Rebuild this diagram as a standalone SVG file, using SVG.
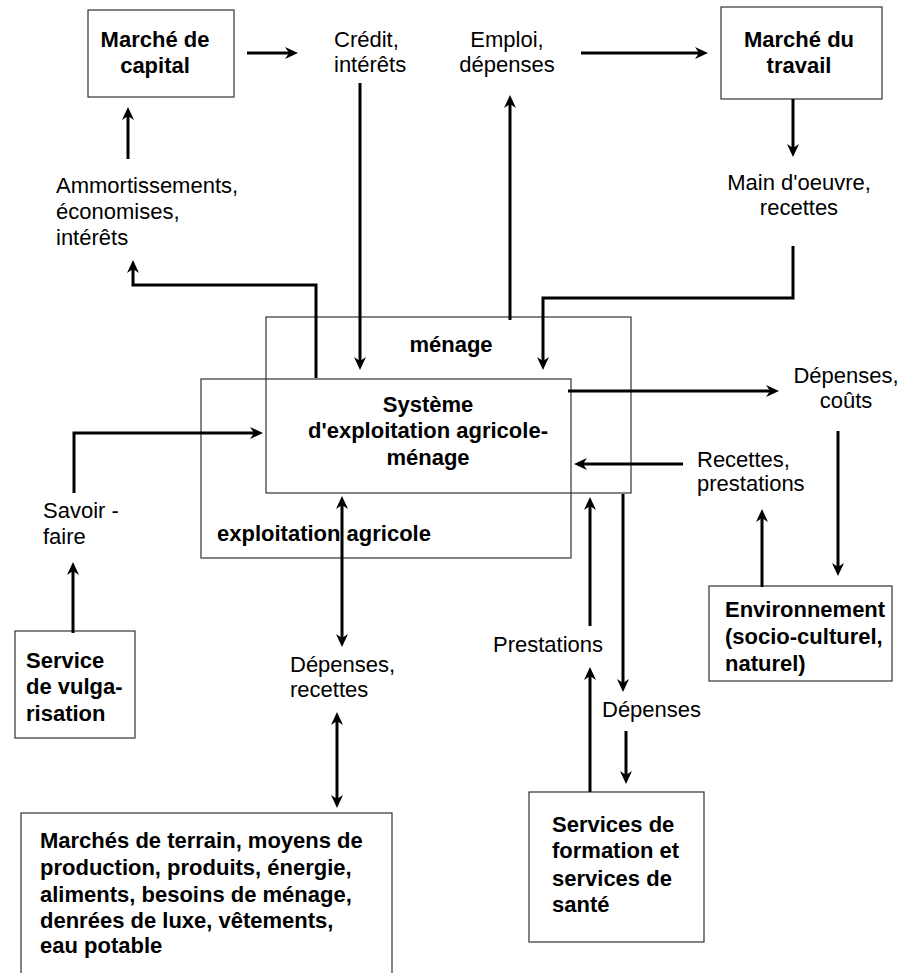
<svg xmlns="http://www.w3.org/2000/svg" width="902" height="973" viewBox="0 0 902 973">
<style>
text{font-family:"Liberation Sans",Arial,sans-serif;font-size:22px;fill:#000}
.b{font-weight:bold}
.m{text-anchor:middle}
.box{fill:none;stroke:#333;stroke-width:1.2}
.c{fill:none;stroke:#000;stroke-width:3;marker-end:url(#ah)}
.d{marker-start:url(#ah)}
</style>
<defs>
<marker id="ah" markerUnits="userSpaceOnUse" markerWidth="14" markerHeight="14" refX="4" refY="6" orient="auto-start-reverse" overflow="visible">
<path d="M0,0 L13,6 L0,12 L4,6 Z" fill="#000"/>
</marker>
</defs>
<rect width="902" height="973" fill="#fff"/>
<g id="capital"><rect class="box" x="88" y="10" width="146" height="87"/><text class="b m" x="155" y="47">Marché de</text><text class="b m" x="155" y="73">capital</text></g>
<g id="travail"><rect class="box" x="721" y="7" width="161" height="92"/><text class="b m" x="799" y="47">Marché du</text><text class="b m" x="799" y="73">travail</text></g>
<g id="credit"><text x="334" y="47">Crédit,</text><text x="334" y="72">intérêts</text></g>
<g id="emploi"><text class="m" x="507" y="47">Emploi,</text><text class="m" x="507" y="72">dépenses</text></g>
<g id="main"><text class="m" x="799" y="190">Main d'oeuvre,</text><text class="m" x="799" y="215">recettes</text></g>
<g id="ammort"><text x="56" y="193">Ammortissements,</text><text x="56" y="219">économises,</text><text x="56" y="245">intérêts</text></g>
<g id="menage"><rect class="box" x="266" y="317" width="365" height="176"/><text class="b m" x="451" y="352">ménage</text></g>
<g id="exploitation"><rect class="box" x="201" y="379" width="370" height="179"/><text class="b" x="217" y="541">exploitation agricole</text></g>
<g id="systeme"><text class="b m" x="428" y="412">Système</text><text class="b m" x="428" y="438">d'exploitation agricole-</text><text class="b m" x="428" y="465">ménage</text></g>
<g id="savoir"><text x="43" y="518">Savoir -</text><text x="43" y="544">faire</text></g>
<g id="vulgarisation"><rect class="box" x="15" y="631" width="120" height="107"/><text class="b" x="26" y="668">Service</text><text class="b" x="26" y="694">de vulga-</text><text class="b" x="26" y="721">risation</text></g>
<g id="depcouts"><text class="m" x="846" y="383">Dépenses,</text><text class="m" x="846" y="408">coûts</text></g>
<g id="recettes"><text x="697" y="467">Recettes,</text><text x="697" y="491">prestations</text></g>
<g id="environnement"><rect class="box" x="709" y="586" width="183" height="95"/><text class="b" x="725" y="617">Environnement</text><text class="b" x="725" y="644">(socio-culturel,</text><text class="b" x="725" y="671">naturel)</text></g>
<g id="prestations"><text x="493" y="652">Prestations</text></g>
<g id="depenses"><text x="602" y="717">Dépenses</text></g>
<g id="deprec"><text x="290" y="672">Dépenses,</text><text x="290" y="697">recettes</text></g>
<g id="services"><rect class="box" x="529" y="792" width="175" height="150"/><text class="b" x="552" y="832">Services de</text><text class="b" x="552" y="858">formation et</text><text class="b" x="552" y="886">services de</text><text class="b" x="552" y="912">santé</text></g>
<g id="marches"><rect class="box" x="21" y="813" width="371" height="170"/><text class="b" x="40" y="848">Marchés de terrain, moyens de</text><text class="b" x="40" y="875">production, produits, énergie,</text><text class="b" x="40" y="902">aliments, besoins de ménage,</text><text class="b" x="40" y="928">denrées de luxe, vêtements,</text><text class="b" x="40" y="953">eau potable</text></g>
<g id="connectors">
<path class="c" d="M247 53 H289"/>
<path class="c" d="M581 53 H699"/>
<path class="c" d="M793 99 V148"/>
<path class="c" d="M128 159 V116"/>
<path class="c" d="M316 378 V285 H133 V269"/>
<path class="c" d="M360 83 V361"/>
<path class="c" d="M510 320 V104"/>
<path class="c" d="M793 246 V298 H543 V361"/>
<path class="c" d="M74 493 V433 H254"/>
<path class="c" d="M73 633 V571"/>
<path class="c d" d="M342 505 V638"/>
<path class="c d" d="M337 721 V799"/>
<path class="c" d="M568 391 H770"/>
<path class="c" d="M838 431 V567"/>
<path class="c" d="M762 587 V518"/>
<path class="c" d="M683 464 H583"/>
<path class="c" d="M590 626 V506"/>
<path class="c" d="M590 792 V676"/>
<path class="c" d="M623 494 V683"/>
<path class="c" d="M626 731 V775"/>
</g>
</svg>
